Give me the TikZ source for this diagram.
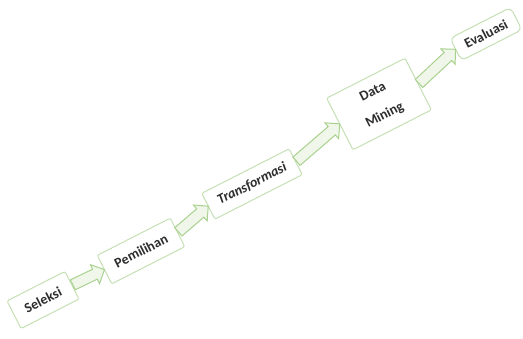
\documentclass[tikz,border=0pt]{standalone}
\usepackage{fontspec}
\setmainfont{Carlito}
\usetikzlibrary{shapes.arrows, calc}

\definecolor{boxline}{RGB}{197,224,180}
\definecolor{arrowline}{RGB}{169,209,142}
\definecolor{arrowfill}{RGB}{240,247,234}
\definecolor{textgray}{RGB}{45,45,45}

\begin{document}
\begin{tikzpicture}[x=1pt, y=1pt,
    stage/.style={draw=boxline, line width=1pt, fill=white, rounded corners=2pt, rotate=27,
        font=\bfseries\fontsize{14}{16}\selectfont, text=textgray, inner sep=2pt, align=center},
    blockarrow/.style={single arrow, draw=arrowline, line width=1pt, fill=arrowfill,
        single arrow head extend=5pt, inner xsep=0pt, inner ysep=5pt}]
    \useasboundingbox (0,0) rectangle (523,338);

    \node[stage, minimum width=65pt, minimum height=31pt] (sel) at (43,38) {Seleksi};
    \node[stage, minimum width=82pt, minimum height=32pt] (pem) at (141,87) {Pemilihan};
    \node[stage, minimum width=98pt, minimum height=29pt, font=\bfseries\itshape\fontsize{14}{16}\selectfont] (trans) at (252,154) {Transformasi};
    \node[stage, minimum width=88pt, minimum height=58pt] (dm) at (379,234) {Data\\[10pt]Mining};
    \node[stage, minimum width=68pt, minimum height=25pt, rounded corners=5pt] (eval) at (486,304) {Evaluasi};

    % block arrows between the stages
    \foreach \a/\b in {sel/pem, pem/trans, trans/dm, dm/eval}
        \path let \p1=(\a.east), \p2=(\b.west), \n1={atan2(\y2-\y1,\x2-\x1)}, \n2={veclen(\x2-\x1,\y2-\y1)} in
            node[blockarrow, minimum height=\n2, rotate=\n1, anchor=tail] at (\p1) {};
\end{tikzpicture}
\end{document}
